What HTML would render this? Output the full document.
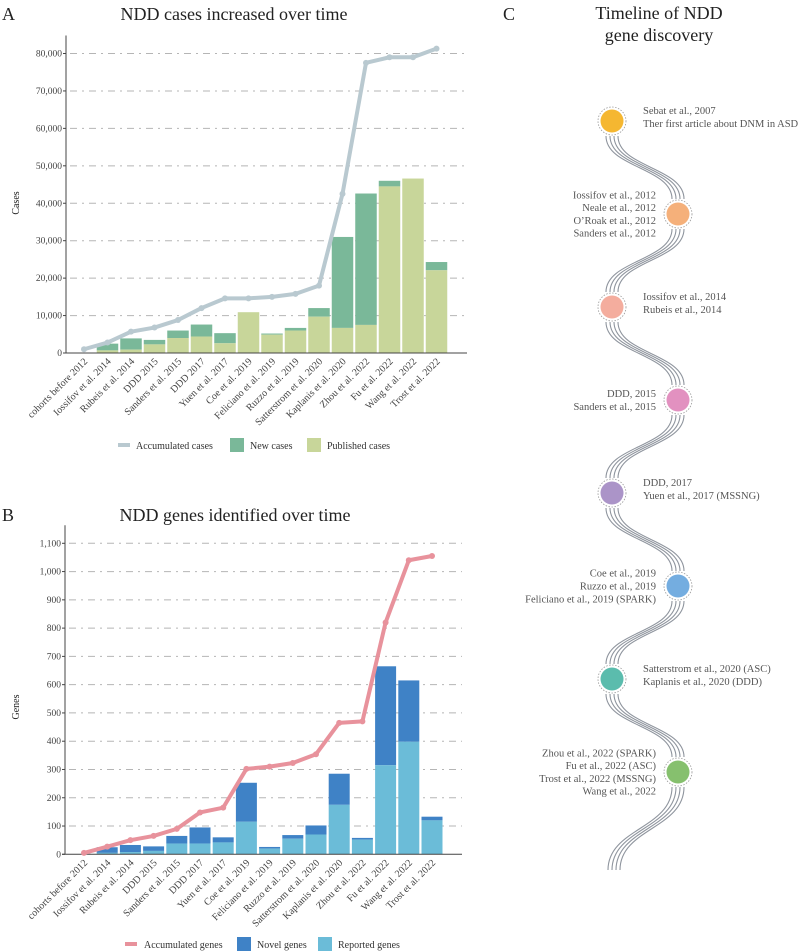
<!DOCTYPE html>
<html><head><meta charset="utf-8"><style>
body{margin:0;background:#fff}
svg{display:block;font-family:"Liberation Serif",serif}
</style></head><body>
<svg id="fig" width="798" height="952" viewBox="0 0 798 952" xmlns="http://www.w3.org/2000/svg">
<text x="2" y="20" font-size="18" fill="#222">A</text>
<text x="234" y="20" font-size="18" fill="#222" text-anchor="middle">NDD cases increased over time</text>
<text x="2" y="521" font-size="18" fill="#222">B</text>
<text x="235" y="521" font-size="18" fill="#222" text-anchor="middle">NDD genes identified over time</text>
<text x="503" y="20" font-size="18" fill="#222">C</text>
<text x="659" y="19" font-size="18" fill="#222" text-anchor="middle">Timeline of NDD</text>
<text x="659" y="41" font-size="18" fill="#222" text-anchor="middle">gene discovery</text>
<text transform="translate(19,203) rotate(-90)" font-size="10" fill="#222" text-anchor="middle">Cases</text>
<text transform="translate(19,707) rotate(-90)" font-size="10" fill="#222" text-anchor="middle">Genes</text>
<g id="ga"></g>
<g id="gb"></g>
<g id="gc"></g>
<g>
<line x1="118" y1="445" x2="130" y2="445" stroke="#b9c9d0" stroke-width="4"/>
<text x="136" y="449" font-size="10" fill="#333">Accumulated cases</text>
<rect x="230" y="438" width="14" height="14" fill="#7ab899"/>
<text x="250" y="449" font-size="10" fill="#333">New cases</text>
<rect x="307" y="438" width="14" height="14" fill="#c8d69a"/>
<text x="327" y="449" font-size="10" fill="#333">Published cases</text>
</g>
<g>
<line x1="125" y1="944" x2="137" y2="944" stroke="#e8929c" stroke-width="4"/>
<text x="144" y="948" font-size="10" fill="#333">Accumulated genes</text>
<rect x="237" y="937" width="14" height="14" fill="#3f82c6"/>
<text x="257" y="948" font-size="10" fill="#333">Novel genes</text>
<rect x="318" y="937" width="14" height="14" fill="#6bbcd8"/>
<text x="338" y="948" font-size="10" fill="#333">Reported genes</text>
</g>
</svg>
<script>
const categories=["cohorts before 2012","Iossifov et al. 2014","Rubeis et al. 2014","DDD 2015","Sanders et al. 2015","DDD 2017","Yuen et al. 2017","Coe et al. 2019","Feliciano et al. 2019","Ruzzo et al. 2019","Satterstrom et al. 2020","Kaplanis et al. 2020","Zhou et al. 2022","Fu et al. 2022","Wang et al. 2022","Trost et al. 2022"];
const casesPublished=[0,700,900,2300,4000,4400,2600,10900,4900,6000,9700,6700,7500,44500,46600,22100];
const casesTotal=[0,2500,3900,3500,6000,7600,5300,10900,5200,6700,12000,31000,42600,46000,46600,24300];
const casesAccum=[1000,2800,5700,6800,8800,12000,14600,14600,15000,15800,18000,42500,77500,79000,79000,81300];
const casesTicks=[0,10000,20000,30000,40000,50000,60000,70000,80000];
const casesTickLabels=["0","10,000","20,000","30,000","40,000","50,000","60,000","70,000","80,000"];
const genesReported=[0,5,8,12,38,38,42,115,20,55,70,175,52,315,398,120];
const genesTotal=[0,25,33,28,65,95,60,253,26,68,102,285,58,665,615,133];
const genesAccum=[5,27,50,65,90,148,165,302,310,323,354,465,470,820,1040,1055];
const genesTicks=[0,100,200,300,400,500,600,700,800,900,1000,1100];
const genesTickLabels=["0","100","200","300","400","500","600","700","800","900","1,000","1,100"];
const timelineLeft=[false,true,false,true,false,true,false,true];
const timelineColors=["#f5b731","#f5b07a","#f4ad9e","#e291c0","#ab94c8","#74ade0","#5bbcad","#86c06e"];
const timelineTexts=[["Sebat et al., 2007","Ther first article about DNM in ASD"],["Iossifov et al., 2012","Neale et al., 2012","O’Roak et al., 2012","Sanders et al., 2012"],["Iossifov et al., 2014","Rubeis et al., 2014"],["DDD, 2015","Sanders et al., 2015"],["DDD, 2017","Yuen et al., 2017 (MSSNG)"],["Coe et al., 2019","Ruzzo et al., 2019","Feliciano et al., 2019 (SPARK)"],["Satterstrom et al., 2020 (ASC)","Kaplanis et al., 2020 (DDD)"],["Zhou et al., 2022 (SPARK)","Fu et al., 2022 (ASC)","Trost et al., 2022 (MSSNG)","Wang et al., 2022"]];

const NS="http://www.w3.org/2000/svg";
function mk(tag,attrs,parent){const e=document.createElementNS(NS,tag);for(const k in attrs)e.setAttribute(k,attrs[k]);parent.appendChild(e);return e;}

function chart(g,cfg){
  const yS=v=>cfg.y0-(v/cfg.vmax)*(cfg.y0-cfg.yTop);
  const xS=i=>cfg.x0c+i*cfg.step;
  cfg.ticks.forEach((t,i)=>{
    const y=yS(t);
    if(t>0){const gl=mk('line',{x1:cfg.ax+4,y1:y,x2:cfg.xEnd,y2:y,stroke:'#b5b5b5','stroke-width':1,'stroke-dasharray':'7,5,2,5'},g);
      
      }
    const tk=mk('line',{x1:cfg.ax-3,y1:y,x2:cfg.ax,y2:y,stroke:'#444'},g);
    
    
    const tl=mk('text',{x:cfg.ax-4,y:y+3,'font-size':9.5,fill:'#444','text-anchor':'end'},g);
    tl.textContent=cfg.tickLabels[i];
    
    
  });
  cfg.total.forEach((v,i)=>{
    if(v<=0)return;
    const x=xS(i)-cfg.bw/2;
    const r1=mk('rect',{x:x,y:yS(v),width:cfg.bw,height:yS(cfg.bottom[i])-yS(v),fill:cfg.cTop},g);
    
    
    const r2=mk('rect',{x:x,y:yS(cfg.bottom[i]),width:cfg.bw,height:cfg.y0-yS(cfg.bottom[i]),fill:cfg.cBot},g);
    
    
  });
  const ya=mk('line',{x1:cfg.ax,y1:cfg.yTop-18,x2:cfg.ax,y2:cfg.y0,stroke:'#444'},g);
  
  
  const xa=mk('line',{x1:cfg.ax-3,y1:cfg.y0,x2:cfg.xEnd,y2:cfg.y0,stroke:'#444'},g);
  
  
  const pts=cfg.accum.map((v,i)=>xS(i)+','+yS(v)).join(' ');
  const pl=mk('polyline',{points:pts,fill:'none',stroke:cfg.cLine,'stroke-width':4,'stroke-linejoin':'round'},g);
  
  
  cfg.accum.forEach((v,i)=>{
    const c=mk('circle',{cx:xS(i),cy:yS(v),r:3,fill:cfg.cLine},g);
    
    
  });
  categories.forEach((c,i)=>{
    const x=xS(i)+4,y=cfg.y0+9;
    const t=mk('text',{transform:`translate(${x},${y}) rotate(-45)`,'font-size':10,fill:'#444','text-anchor':'end'},g);
    t.textContent=c;
    
    
  });
}
chart(document.getElementById('ga'),{y0:353,yTop:53.5,vmax:80000,ax:66,xEnd:467,x0c:84,step:23.5,bw:21.5,
  ticks:casesTicks,tickLabels:casesTickLabels,total:casesTotal,bottom:casesPublished,accum:casesAccum,
  cTop:'#7ab899',cBot:'#c8d69a',cLine:'#b9c9d0',topName:'bar-new-cases',botName:'bar-published-cases',lineName:'accumulated-cases-line'});
chart(document.getElementById('gb'),{y0:854.3,yTop:543.3,vmax:1100,ax:65,xEnd:462,x0c:84,step:23.2,bw:21,
  ticks:genesTicks,tickLabels:genesTickLabels,total:genesTotal,bottom:genesReported,accum:genesAccum,
  cTop:'#3f82c6',cBot:'#6bbcd8',cLine:'#e8929c',topName:'bar-novel-genes',botName:'bar-reported-genes',lineName:'accumulated-genes-line'});

(function(){
  const g=document.getElementById('gc');
  const yTop=121,gap=93,L=612,R=678;
  const cy=i=>yTop+i*gap;
  const cx=i=>timelineLeft[i]?R:L;
  const n=timelineColors.length;
  for(let i=0;i<n;i++){
    const x1=cx(i),y1=cy(i)+15;
    const y2=i<n-1?cy(i+1)-15:cy(i)+98;
    const xe=i<n-1?cx(i+1):(x1===R?614:678);
    [-6,-2,2,6].forEach(o=>{
      const p=mk('path',{d:`M${x1+o},${y1} C${x1+o},${(y1+y2)/2} ${xe+o},${(y1+y2)/2} ${xe+o},${y2}`,fill:'none',stroke:'#8f959e','stroke-width':1.1},g);
      
      
    });
  }
  for(let i=0;i<n;i++){
    const x=cx(i),y=cy(i);
    const ring=mk('circle',{cx:x,cy:y,r:14,fill:'#fff',stroke:'#999','stroke-width':0.8,'stroke-dasharray':'1.5,1.5'},g);
    
    
    const c=mk('circle',{cx:x,cy:y,r:11.5,fill:timelineColors[i]},g);
    
    
    const lines=timelineTexts[i];
    const left=timelineLeft[i];
    const tx=left?x-22:x+31;
    const h=(lines.length-1)*12.8;
    lines.forEach((s,k)=>{
      const t=mk('text',{x:tx,y:y-h/2+k*12.8-(left?0:4)+3.5,'font-size':10.5,fill:'#555','text-anchor':left?'end':'start'},g);
      t.textContent=s;
      
      
    });
  }
})();
</script>
</body></html>
